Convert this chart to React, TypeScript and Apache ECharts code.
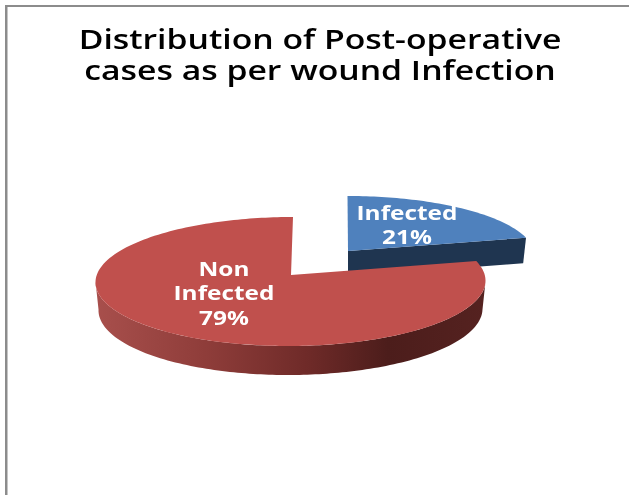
import React, { useEffect, useRef } from "react";
import * as echarts from "echarts";

const categories = ["Infected", "Non Infected"];
const percentages = [21, 79];
const titleLines = ["Distribution of Post-operative", "cases as per wound Infection"];
const labelLines = [["Infected", "21%"], ["Non", "Infected", "79%"]];

const FONT = "'Open Sans', sans-serif";
const TOP_COLORS = ["#4F81BD", "#C0504D"];
const CUT_COLORS = ["#1F3550", "#4D1E1C"];
// layout of each (exploded) slice: top-face ellipse, bottom-face ellipse, apex shift, label anchor
const LAYOUT = [
  { cx: 345, cy: 257, a: 190, b: 61, bcx: 345, bcy: 282.5, ba: 187, bb: 61, ax: 3, ay: -6, lx: 407, ly: 212 },
  { cx: 290.5, cy: 281.5, a: 195, b: 64.5, bcx: 290.5, bcy: 309.5, ba: 192, bb: 65.5, ax: 0.5, ay: -6.5, lx: 224, ly: 268 },
];
const SHEAR = 2.5;
const ASPECT_K = 1.3; // perspective compression of pie angles on the receding half
const LINE_H = 24.5;
const TEXT_STRETCH = 1.22; // the reference's text is stretched horizontally

function rimPoint(deg: number, cx: number, cy: number, a: number, b: number) {
  const t = (deg * Math.PI) / 180;
  const phi = Math.atan2(ASPECT_K * Math.sin(t), Math.cos(t));
  return [cx + a * Math.cos(phi) + SHEAR * Math.sin(phi), cy - b * Math.sin(phi)];
}

function arc(from: number, to: number, cx: number, cy: number, a: number, b: number) {
  const n = Math.max(2, Math.ceil(Math.abs(to - from) / 1.5));
  const out: number[][] = [];
  for (let i = 0; i <= n; i++) out.push(rimPoint(from + ((to - from) * i) / n, cx, cy, a, b));
  return out;
}

function renderSlice(params: any, api: any) {
  const i = params.dataIndex;
  const total = percentages.reduce((s, v) => s + v, 0);
  const before = percentages.slice(0, i).reduce((s, v) => s + v, 0);
  const value = api.value(1);
  const start = 90 - (before / total) * 360;
  const end = start - (value / total) * 360;
  const g = LAYOUT[i];
  const apex = [g.cx + g.ax, g.cy + g.ay];
  const children: any[] = [];

  // outer wall, only where the rim faces the viewer (-180..0 degrees)
  const wallFrom = Math.max(end, -180);
  const wallTo = Math.min(start, 0);
  if (wallTo > wallFrom) {
    const topArc = arc(wallFrom, wallTo, g.cx, g.cy, g.a, g.b);
    const botArc = arc(wallTo, wallFrom, g.bcx, g.bcy, g.ba, g.bb);
    children.push({
      type: "polygon",
      shape: { points: topArc.concat(botArc) },
      style: {
        fill: new echarts.graphic.LinearGradient(0, 0, 1, 0, [
          { offset: 0, color: "#A84F4C" },
          { offset: 0.28, color: "#8F3D3A" },
          { offset: 0.55, color: "#6E2A28" },
          { offset: 0.75, color: "#4C1D1B" },
          { offset: 1, color: "#552220" },
        ]),
      },
    });
  }

  // cut face on the clockwise end of the slice, if it faces the viewer
  const endRim = rimPoint(end, g.cx, g.cy, g.a, g.b);
  if (endRim[0] > apex[0] + 5) {
    const endBot = rimPoint(end, g.bcx, g.bcy, g.ba, g.bb);
    children.push({
      type: "polygon",
      shape: { points: [apex, endRim, endBot, [apex[0], apex[1] + (g.bcy - g.cy)]] },
      style: { fill: CUT_COLORS[i] },
    });
  }

  // top face
  children.push({
    type: "polygon",
    shape: { points: [apex].concat(arc(start, end, g.cx, g.cy, g.a, g.b)) },
    style: { fill: TOP_COLORS[i] },
  });

  // label
  labelLines[i].forEach((line, k) => {
    children.push({
      type: "text",
      z2: 10,
      x: g.lx,
      y: g.ly + k * LINE_H,
      scaleX: TEXT_STRETCH,
      style: {
        text: line,
        x: 0,
        y: 0,
        align: "center",
        verticalAlign: "middle",
        fill: "#FFFFFF",
        font: `700 20px ${FONT}`,
      },
    });
  });

  return { type: "group", children };
}

export default function App() {
  const ref = useRef<HTMLDivElement>(null);
  useEffect(() => {
    document.body.style.margin = "0";
    const chart = echarts.init(ref.current!, undefined, { renderer: "svg" });
    chart.setOption({
      animation: false,
      backgroundColor: "#FFFFFF",
      graphic: [
        { type: "rect", shape: { x: 5, y: 5, width: 624, height: 2 }, style: { fill: "#8C8C8C" } },
        { type: "rect", shape: { x: 5, y: 5, width: 2.5, height: 490 }, style: { fill: "#8C8C8C" } },
        ...titleLines.map((line, k) => ({
          type: "text",
          x: 320,
          y: 38 + k * 31,
          scaleX: 1.25,
          style: {
            text: line,
            x: 0,
            y: 0,
            align: "center",
            verticalAlign: "middle",
            fill: "#000000",
            font: `600 27px ${FONT}`,
          },
        })),
      ],
      series: [
        {
          type: "custom",
          coordinateSystem: "none",
          renderItem: renderSlice,
          data: categories.map((c, i) => ({ name: c, value: [i, percentages[i]] })),
          encode: { value: 1 },
        },
      ],
    });
    return () => chart.dispose();
  }, []);
  return (
    <div
      ref={ref}
      style={{ position: "fixed", left: 0, top: 0, width: 629, height: 495, filter: "blur(0.4px)" }}
    />
  );
}
